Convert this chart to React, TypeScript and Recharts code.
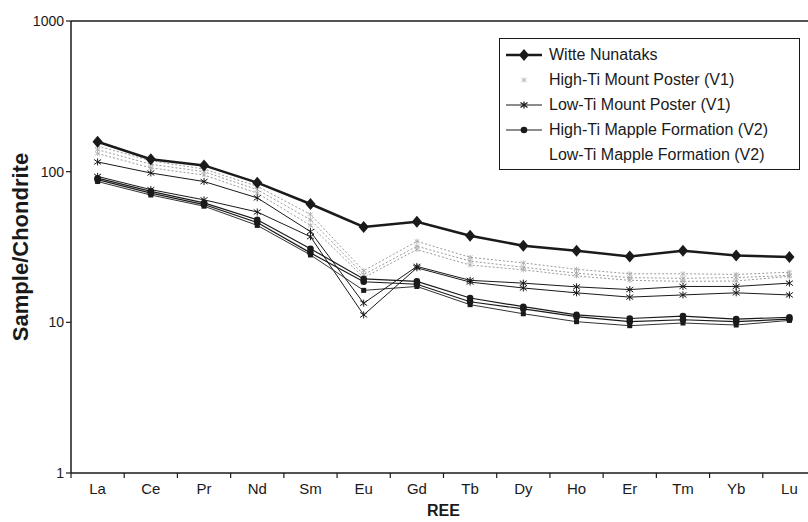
import { Label, Legend, Line, LineChart, ReferenceLine, XAxis, YAxis } from 'recharts';

const ree = ['La', 'Ce', 'Pr', 'Nd', 'Sm', 'Eu', 'Gd', 'Tb', 'Dy', 'Ho', 'Er', 'Tm', 'Yb', 'Lu'];
const yTicks = [1, 10, 100, 1000];
const legendNames = [
  'Witte Nunataks',
  'High-Ti Mount Poster (V1)',
  'Low-Ti Mount Poster (V1)',
  'High-Ti Mapple Formation (V2)',
  'Low-Ti Mapple Formation (V2)',
];

const witteNunataks = [158, 121, 110, 84.5, 61, 43, 46.5, 37.6, 32.2, 29.9, 27.4, 29.9, 27.8, 27.1];
const highTiMountPoster1 = [148, 118, 104, 80, 52, 22, 34.5, 27, 24.8, 22.5, 21, 21, 20.8, 21.5];
const highTiMountPoster2 = [140, 112, 100, 76, 48, 20.7, 32, 25.5, 23.2, 21.2, 19.8, 19.6, 19.8, 20.5];
const highTiMountPoster3 = [132, 106, 95, 72, 44, 19.8, 30.4, 24, 22.3, 20.3, 19, 18.7, 18.8, 20.2];
const lowTiMountPoster1 = [116, 98, 86, 67, 40, 13.4, 23.5, 19, 18.2, 17.2, 16.5, 17.3, 17.3, 18.2];
const lowTiMountPoster2 = [93, 76, 65, 54, 37, 11.2, 23, 18.5, 16.9, 15.7, 14.7, 15.2, 15.7, 15.2];
const highTiMapple1 = [90.5, 74, 62, 48, 30.8, 19.4, 18.7, 14.5, 12.7, 11.2, 10.6, 11, 10.5, 10.8];
const highTiMapple2 = [88.5, 72, 60.5, 46, 28.9, 18.6, 17.9, 13.7, 12.3, 10.9, 10.1, 10.4, 10.1, 10.5];
const lowTiMapple1 = [86, 70, 59, 44, 28, 16.3, 17.3, 13.1, 11.4, 10.1, 9.5, 9.9, 9.6, 10.3];

const data = ree.map((name, i) => ({
  idx: i,
  name,
  witte: witteNunataks[i],
  hmp1: highTiMountPoster1[i],
  hmp2: highTiMountPoster2[i],
  hmp3: highTiMountPoster3[i],
  lmp1: lowTiMountPoster1[i],
  lmp2: lowTiMountPoster2[i],
  hmf1: highTiMapple1[i],
  hmf2: highTiMapple2[i],
  lmf1: lowTiMapple1[i],
}));

const FONT = '"Liberation Sans", Arial, sans-serif';
const INK = '#1a1a1a';
const WIDTH = 820;
const PLOT_LEFT = 71;
const PLOT_RIGHT = 816;
const BAND = (PLOT_RIGHT - PLOT_LEFT) / ree.length;

const diamondPath = (cx: number, cy: number, r: number) =>
  `M${cx},${cy - r}L${cx + r * 0.85},${cy}L${cx},${cy + r}L${cx - r * 0.85},${cy}Z`;

const asteriskPath = (cx: number, cy: number, r: number) =>
  `M${cx - r},${cy - r * 0.7}L${cx + r},${cy + r * 0.7}M${cx - r},${cy + r * 0.7}L${cx + r},${cy - r * 0.7}M${cx},${cy - r}L${cx},${cy + r}`;

const witteDot = (p: any) => (
  <path key={`w${p.index}`} d={diamondPath(p.cx, p.cy, 6)} fill={INK} />
);
const grayStar = (p: any) => (
  <path key={`g${p.index}`} d={asteriskPath(p.cx, p.cy, 2.5)} stroke="#aaa" strokeWidth={0.8} fill="none" />
);
const blackStar = (p: any) => (
  <path key={`s${p.index}`} d={asteriskPath(p.cx, p.cy, 3.5)} stroke={INK} strokeWidth={1} fill="none" />
);
const roundDot = (p: any) => <circle key={`c${p.index}`} cx={p.cx} cy={p.cy} r={3.3} fill={INK} />;
const squareDot = (p: any) => (
  <rect key={`q${p.index}`} x={p.cx - 2.5} y={p.cy - 2.5} width={5} height={5} fill={INK} />
);

function ReeTick(props: any) {
  const { x, y, payload } = props;
  const left = x - BAND / 2;
  return (
    <g>
      <line x1={left} y1={y} x2={left} y2={y + 5} stroke={INK} strokeWidth={1.2} />
      <text x={x} y={y + 21} textAnchor="middle" fontSize={15} fill={INK}>
        {ree[payload.value]}
      </text>
    </g>
  );
}

function LegendSymbol({ index }: { index: number }) {
  if (index === 0) {
    return (
      <>
        <line x1={0} y1={7} x2={36} y2={7} stroke={INK} strokeWidth={2.5} />
        <path d={diamondPath(18, 7, 6)} fill={INK} />
      </>
    );
  }
  if (index === 1) {
    return <path d={asteriskPath(18, 7, 2.5)} stroke="#aaa" strokeWidth={0.8} fill="none" />;
  }
  if (index === 2) {
    return (
      <>
        <line x1={0} y1={7} x2={36} y2={7} stroke={INK} strokeWidth={1} />
        <path d={asteriskPath(18, 7, 3.5)} stroke={INK} strokeWidth={1.2} fill="none" />
      </>
    );
  }
  if (index === 3) {
    return (
      <>
        <line x1={0} y1={7} x2={36} y2={7} stroke={INK} strokeWidth={1} />
        <circle cx={18} cy={7} r={3.3} fill={INK} />
      </>
    );
  }
  return null;
}

function LegendBox() {
  return (
    <div
      style={{
        width: 301,
        height: 132,
        boxSizing: 'border-box',
        border: `1.5px solid ${INK}`,
        background: '#fff',
        padding: '3px 0 0 6px',
        fontFamily: FONT,
        fontSize: 16,
        color: INK,
      }}
    >
      {legendNames.map((name, i) => (
        <div key={name} style={{ height: 25, display: 'flex', alignItems: 'center' }}>
          <svg width={36} height={14}>
            <LegendSymbol index={i} />
          </svg>
          <span style={{ marginLeft: 7, whiteSpace: 'nowrap' }}>{name}</span>
        </div>
      ))}
    </div>
  );
}

export default function App() {
  return (
    <div style={{ position: 'absolute', left: 0, top: 0, width: 808, height: 522, overflow: 'hidden', background: '#fff' }}>
      <LineChart
        width={WIDTH}
        height={522}
        data={data}
        margin={{ top: 21, right: WIDTH - PLOT_RIGHT, bottom: 19, left: 0 }}
        style={{ fontFamily: FONT }}
      >
        <XAxis
          dataKey="idx"
          type="number"
          domain={[-0.5, ree.length - 0.5]}
          ticks={ree.map((_, i) => i)}
          interval={0}
          height={30}
          tick={<ReeTick />}
          tickLine={false}
          tickSize={0}
          tickMargin={0}
          axisLine={{ stroke: INK, strokeWidth: 1.5 }}
          allowDataOverflow
        >
          <Label
            content={() => (
              <text x={(PLOT_LEFT + PLOT_RIGHT) / 2} y={516} textAnchor="middle" fontSize={16} fontWeight="bold" fill={INK}>
                REE
              </text>
            )}
          />
        </XAxis>
        <YAxis
          type="number"
          scale="log"
          domain={[1, 1000]}
          ticks={yTicks}
          width={PLOT_LEFT}
          allowDataOverflow
          tick={{ fontSize: 14, fill: INK }}
          tickLine={{ stroke: INK, strokeWidth: 1.2 }}
          tickSize={5}
          axisLine={{ stroke: INK, strokeWidth: 1.5 }}
          tickFormatter={(v: number) => String(v)}
        >
          <Label
            content={() => (
              <text
                x={28}
                y={247}
                transform="rotate(-90 28 247)"
                textAnchor="middle"
                fontSize={22}
                fontWeight="bold"
                fill={INK}
              >
                Sample/Chondrite
              </text>
            )}
          />
        </YAxis>
        <ReferenceLine y={1000} stroke={INK} strokeWidth={1.5} />
        <Legend
          layout="vertical"
          align="center"
          verticalAlign="middle"
          content={() => <LegendBox />}
          wrapperStyle={{ left: 499, top: 38, width: 301, height: 132 }}
        />

        {['hmp1', 'hmp2', 'hmp3'].map((k) => (
          <Line
            key={k}
            type="linear"
            dataKey={k}
            name="High-Ti Mount Poster (V1)"
            stroke="#9a9a9a"
            strokeWidth={1}
            strokeDasharray="2 2"
            dot={grayStar}
            activeDot={false}
            isAnimationActive={false}
          />
        ))}
        {['lmf1'].map((k) => (
          <Line
            key={k}
            type="linear"
            dataKey={k}
            name="Low-Ti Mapple Formation (V2)"
            stroke="#333"
            strokeWidth={1}
            dot={squareDot}
            activeDot={false}
            isAnimationActive={false}
          />
        ))}
        {['hmf1', 'hmf2'].map((k) => (
          <Line
            key={k}
            type="linear"
            dataKey={k}
            name="High-Ti Mapple Formation (V2)"
            stroke={INK}
            strokeWidth={1.2}
            dot={roundDot}
            activeDot={false}
            isAnimationActive={false}
          />
        ))}
        {['lmp1', 'lmp2'].map((k) => (
          <Line
            key={k}
            type="linear"
            dataKey={k}
            name="Low-Ti Mount Poster (V1)"
            stroke={INK}
            strokeWidth={1}
            dot={blackStar}
            activeDot={false}
            isAnimationActive={false}
          />
        ))}
        <Line
          type="linear"
          dataKey="witte"
          name="Witte Nunataks"
          stroke={INK}
          strokeWidth={2.5}
          dot={witteDot}
          activeDot={false}
          isAnimationActive={false}
        />
      </LineChart>
    </div>
  );
}
